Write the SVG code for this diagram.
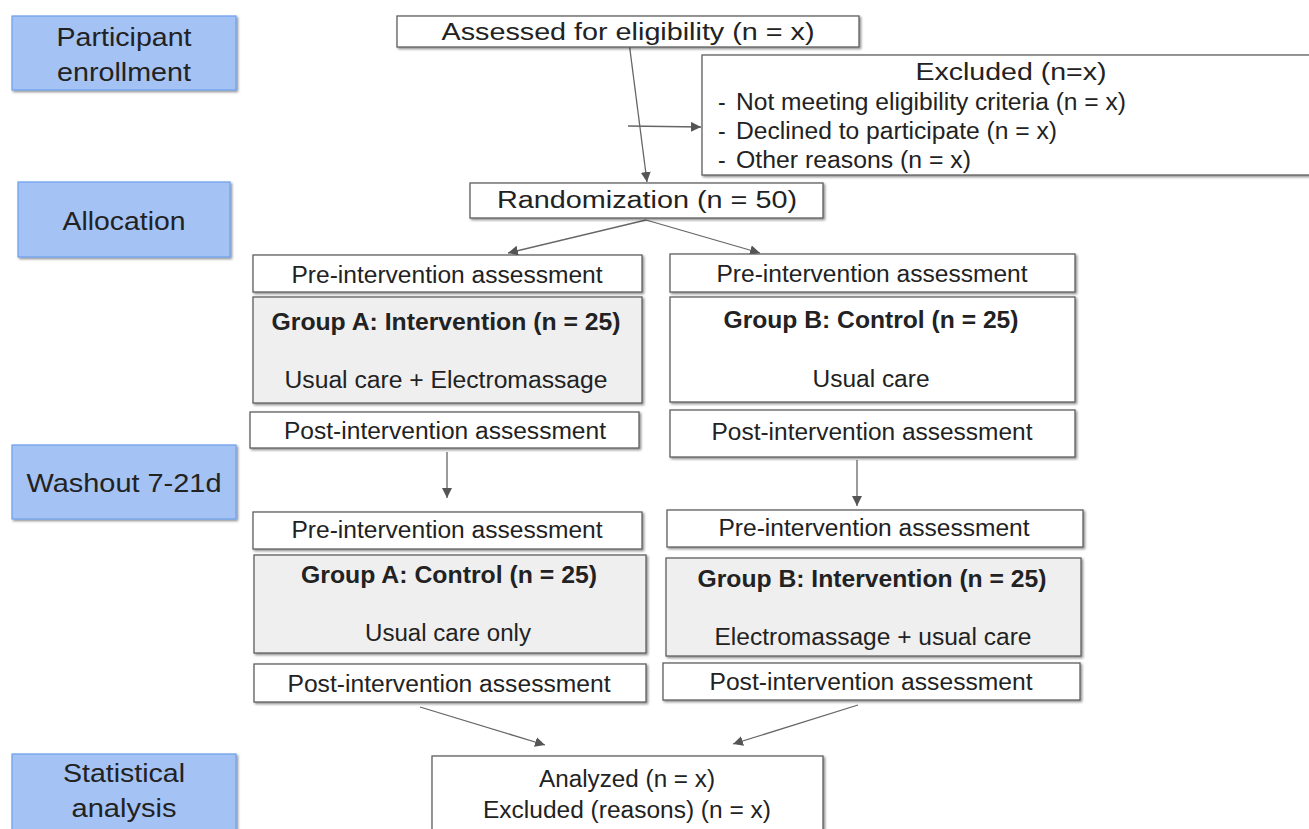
<svg xmlns="http://www.w3.org/2000/svg" width="1309" height="829" viewBox="0 0 1309 829">
<style>
text{font-family:"Liberation Sans",Arial,sans-serif;fill:#222;font-size:23px}
.c{text-anchor:middle}
.b{font-weight:bold}
.blue{fill:#a4c2f4;stroke:#6d9eeb;stroke-width:1.2}
.box{fill:#fff;stroke:#5f5f5f;stroke-width:1.3}
.grey{fill:#efefef;stroke:#5f5f5f;stroke-width:1.3}
.lbl{font-size:26px}
.ex{font-size:23px}
.con line{stroke:#666;stroke-width:1.3}
</style>
<defs>
<filter id="sh" x="-5%" y="-10%" width="110%" height="130%">
<feDropShadow dx="1.5" dy="1.5" stdDeviation="1" flood-color="#000" flood-opacity="0.45"/>
</filter>
<marker id="ah" viewBox="0 0 10 10" refX="10" refY="5" markerWidth="10" markerHeight="10" markerUnits="userSpaceOnUse" orient="auto">
<path d="M0,0 L10,5 L0,10 z" fill="#555"/>
</marker>
</defs>
<rect width="1309" height="829" fill="#fff"/>

<g id="lbl-enroll"><rect class="blue" x="12" y="16" width="224" height="74" filter="url(#sh)"/>
<text class="c lbl" x="124" y="46" textLength="135" lengthAdjust="spacingAndGlyphs">Participant</text>
<text class="c lbl" x="124" y="81" textLength="134" lengthAdjust="spacingAndGlyphs">enrollment</text></g>
<g id="lbl-alloc"><rect class="blue" x="18" y="182" width="212" height="75" filter="url(#sh)"/>
<text class="c lbl" x="124" y="230" textLength="123" lengthAdjust="spacingAndGlyphs">Allocation</text></g>
<g id="lbl-washout"><rect class="blue" x="12" y="445" width="224" height="74" filter="url(#sh)"/>
<text class="c lbl" x="124" y="492" textLength="195" lengthAdjust="spacingAndGlyphs">Washout 7-21d</text></g>
<g id="lbl-stat"><rect class="blue" x="12" y="754" width="224" height="80" filter="url(#sh)"/>
<text class="c lbl" x="124" y="782" textLength="122" lengthAdjust="spacingAndGlyphs">Statistical</text>
<text class="c lbl" x="124" y="817" textLength="105" lengthAdjust="spacingAndGlyphs">analysis</text></g>

<g class="con" id="connectors">
<line x1="629" y1="42" x2="647" y2="182" marker-end="url(#ah)"/>
<line x1="628" y1="126" x2="701" y2="127" marker-end="url(#ah)"/>
<line x1="646" y1="220" x2="508" y2="253" marker-end="url(#ah)"/>
<line x1="646" y1="220" x2="760" y2="253" marker-end="url(#ah)"/>
<line x1="447" y1="452" x2="447" y2="498" marker-end="url(#ah)"/>
<line x1="857" y1="460" x2="857" y2="506" marker-end="url(#ah)"/>
<line x1="420" y1="707" x2="545" y2="745" marker-end="url(#ah)"/>
<line x1="858" y1="705" x2="733" y2="744" marker-end="url(#ah)"/>
</g>

<g id="assessed"><rect class="box" x="397" y="16" width="462" height="31" filter="url(#sh)"/>
<text class="c" x="628" y="40" textLength="373" lengthAdjust="spacingAndGlyphs">Assessed for eligibility (n = x)</text></g>
<g id="excluded"><rect class="box" x="702" y="55" width="620" height="120" filter="url(#sh)"/>
<text class="c" x="1011" y="80" font-size="25" textLength="191" lengthAdjust="spacingAndGlyphs">Excluded (n=x)</text>
<text class="ex" x="718" y="110">-</text>
<text class="ex" x="736" y="110" textLength="390" lengthAdjust="spacingAndGlyphs">Not meeting eligibility criteria (n = x)</text>
<text class="ex" x="718" y="139">-</text>
<text class="ex" x="736" y="139" textLength="321" lengthAdjust="spacingAndGlyphs">Declined to participate (n = x)</text>
<text class="ex" x="718" y="168">-</text>
<text class="ex" x="736" y="168" textLength="235" lengthAdjust="spacingAndGlyphs">Other reasons (n = x)</text></g>
<g id="random"><rect class="box" x="470" y="183" width="353" height="35" filter="url(#sh)"/>
<text class="c" x="647" y="208" textLength="300" lengthAdjust="spacingAndGlyphs">Randomization (n = 50)</text></g>

<g id="preA1"><rect class="box" x="253" y="255" width="389" height="37" filter="url(#sh)"/>
<text class="c" x="447" y="283" textLength="311" lengthAdjust="spacingAndGlyphs">Pre-intervention assessment</text></g>
<g id="groupA1"><rect class="grey" x="253" y="297" width="389" height="106" filter="url(#sh)"/>
<text class="c b" x="446" y="330" textLength="349" lengthAdjust="spacingAndGlyphs">Group A: Intervention (n = 25)</text>
<text class="c" x="446" y="388" textLength="323" lengthAdjust="spacingAndGlyphs">Usual care + Electromassage</text></g>
<g id="postA1"><rect class="box" x="250" y="412" width="389" height="36" filter="url(#sh)"/>
<text class="c" x="445" y="439" textLength="322" lengthAdjust="spacingAndGlyphs">Post-intervention assessment</text></g>

<g id="preB1"><rect class="box" x="670" y="254" width="405" height="38" filter="url(#sh)"/>
<text class="c" x="872" y="282" textLength="311" lengthAdjust="spacingAndGlyphs">Pre-intervention assessment</text></g>
<g id="groupB1"><rect class="box" x="670" y="297" width="405" height="105" filter="url(#sh)"/>
<text class="c b" x="871" y="328" textLength="295" lengthAdjust="spacingAndGlyphs">Group B: Control (n = 25)</text>
<text class="c" x="871" y="387" textLength="117" lengthAdjust="spacingAndGlyphs">Usual care</text></g>
<g id="postB1"><rect class="box" x="670" y="410" width="405" height="47" filter="url(#sh)"/>
<text class="c" x="872" y="440" textLength="321" lengthAdjust="spacingAndGlyphs">Post-intervention assessment</text></g>

<g id="preA2"><rect class="box" x="253" y="512" width="389" height="37" filter="url(#sh)"/>
<text class="c" x="447" y="538" textLength="311" lengthAdjust="spacingAndGlyphs">Pre-intervention assessment</text></g>
<g id="groupA2"><rect class="grey" x="254" y="555" width="392" height="98" filter="url(#sh)"/>
<text class="c b" x="449" y="583" textLength="296" lengthAdjust="spacingAndGlyphs">Group A: Control (n = 25)</text>
<text class="c" x="448" y="641" textLength="166" lengthAdjust="spacingAndGlyphs">Usual care only</text></g>
<g id="postA2"><rect class="box" x="254" y="664" width="392" height="38" filter="url(#sh)"/>
<text class="c" x="449" y="692" textLength="323" lengthAdjust="spacingAndGlyphs">Post-intervention assessment</text></g>

<g id="preB2"><rect class="box" x="667" y="510" width="416" height="37" filter="url(#sh)"/>
<text class="c" x="874" y="536" textLength="311" lengthAdjust="spacingAndGlyphs">Pre-intervention assessment</text></g>
<g id="groupB2"><rect class="grey" x="666" y="558" width="415" height="98" filter="url(#sh)"/>
<text class="c b" x="872" y="587" textLength="349" lengthAdjust="spacingAndGlyphs">Group B: Intervention (n = 25)</text>
<text class="c" x="873" y="645" textLength="317" lengthAdjust="spacingAndGlyphs">Electromassage + usual care</text></g>
<g id="postB2"><rect class="box" x="663" y="663" width="417" height="37" filter="url(#sh)"/>
<text class="c" x="871" y="690" textLength="323" lengthAdjust="spacingAndGlyphs">Post-intervention assessment</text></g>

<g id="analyzed"><rect class="box" x="432" y="756" width="391" height="80" filter="url(#sh)"/>
<text class="c" x="627" y="787" textLength="176" lengthAdjust="spacingAndGlyphs">Analyzed (n = x)</text>
<text class="c" x="627" y="818" textLength="288" lengthAdjust="spacingAndGlyphs">Excluded (reasons) (n = x)</text></g>
</svg>
